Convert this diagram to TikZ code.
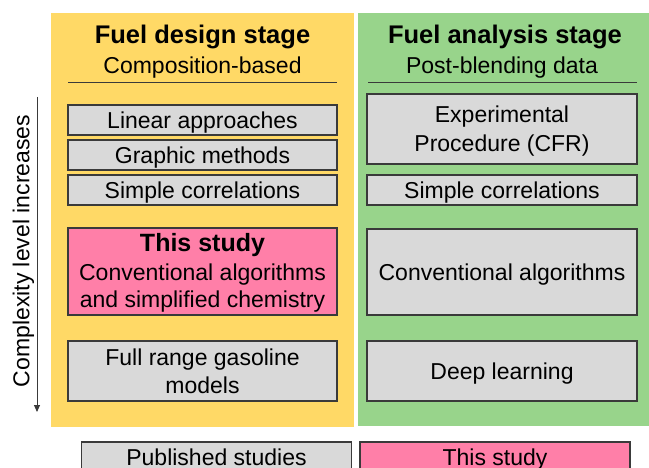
\documentclass[tikz,border=0pt]{standalone}
\usepackage{fontspec}
\setmainfont{Liberation Sans}
\usetikzlibrary{arrows.meta}
\definecolor{panelyellow}{HTML}{FFD966}
\definecolor{panelgreen}{HTML}{98D48B}
\definecolor{boxgrey}{HTML}{D9D9D9}
\definecolor{studypink}{HTML}{FF7FA8}
\definecolor{edgegrey}{HTML}{3A3A3A}
\begin{document}
\begin{tikzpicture}[x=1pt,y=-1pt,
  every node/.style={inner sep=0pt, outer sep=0pt},
  % text boxes are measured from cap height down to the last baseline,
  % so every label sits optically centred in its box
  bodyfont/.style={font=\fontsize{23}{28}\selectfont, text height=16.5pt, text depth=0pt},
  titlefont/.style={font=\fontsize{25.5}{30}\selectfont\bfseries, text height=18.3pt, text depth=0pt},
  twolines/.style={text height=44.5pt},
  panel/.style={rectangle, draw=none},
  itembox/.style={rectangle, draw=edgegrey, line width=1.2pt, fill=boxgrey,
    align=center, bodyfont},
  studybox/.style={itembox, fill=studypink},
  rule/.style={draw=edgegrey, line width=0.9pt},
]
\useasboundingbox (0,0) rectangle (649,468);
\clip (0,0) rectangle (649,468);

% stage panels
\node[panel, fill=panelyellow, minimum width=303pt, minimum height=414pt] (design) at (202.5,220) {};
\node[panel, fill=panelgreen, minimum width=295pt, minimum height=413pt] (analysis) at (505.5,219.5) {};

% panel headings
\node[titlefont] (dtitle) at (202.5,34) {Fuel design stage};
\node[bodyfont] (dsub) at (202.5,65.5) {Composition-based};
\node[titlefont] (atitle) at (505,34) {Fuel analysis stage};
\node[bodyfont] (asub) at (502,65.5) {Post-blending data};
\coordinate (dl1) at (68,82);
\coordinate (dl2) at (337,82);
\coordinate (al1) at (368,82);
\coordinate (al2) at (637,82);
\draw[rule] (dl1) -- (dl2);
\draw[rule] (al1) -- (al2);

% design-stage methods
\node[itembox, minimum width=269pt, minimum height=30pt] (lin) at (202.5,120) {Linear approaches};
\node[itembox, minimum width=269pt, minimum height=30pt] (gra) at (202.5,155) {Graphic methods};
\node[itembox, minimum width=269pt, minimum height=30pt] (sc1) at (202.5,190) {Simple correlations};
\node[studybox, minimum width=269pt, minimum height=87pt, text height=73pt] (this) at (202.5,271.5)
  {{\fontsize{25}{28}\selectfont\bfseries This study}\\Conventional algorithms\\and simplified chemistry};
\node[itembox, twolines, minimum width=269pt, minimum height=60pt] (full) at (202.5,371) {Full range gasoline\\models};

% analysis-stage methods
\node[itembox, minimum width=270pt, minimum height=70pt, font=\fontsize{23}{29.5}\selectfont, text height=46pt] (exp) at (502,129) {Experimental\\Procedure (CFR)};
\node[itembox, minimum width=270pt, minimum height=30pt] (sc2) at (502,190) {Simple correlations};
\node[itembox, minimum width=270pt, minimum height=86pt] (conv) at (502,272) {Conventional algorithms};
\node[itembox, minimum width=270pt, minimum height=60pt] (deep) at (502,371) {Deep learning};

% complexity axis
\coordinate (axtop) at (37,97);
\coordinate (axbot) at (37,412);
\draw[edgegrey, line width=0.9pt, -{Triangle[length=7pt,width=6pt]}] (axtop) -- (axbot);
\node[bodyfont, rotate=90] (axlabel) at (21,251) {Complexity level increases};

% legend
\node[itembox, minimum width=270pt, minimum height=30pt] (legpub) at (216.5,457) {Published studies};
\node[studybox, minimum width=270pt, minimum height=30pt] (legthis) at (495,457) {This study};
\end{tikzpicture}
\end{document}
